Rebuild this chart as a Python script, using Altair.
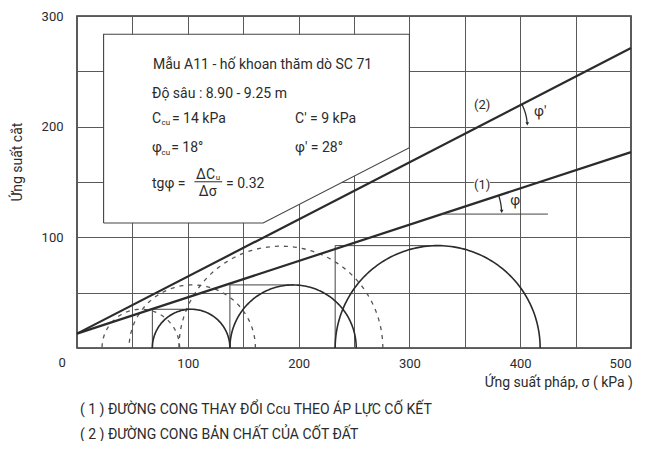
import altair as alt
import numpy as np
import pandas as pd

FONT = "Roboto"
INK = "#2b2b2b"

# ---- data (sigma, tau in kPa) ----
grid_x = list(range(0, 501, 50))
grid_y = list(range(0, 301, 50))

line_names = ["(1)", "(2)"]
line_sigma0 = [0, 0]
line_tau0 = [13, 13]
line_sigma1 = [500, 500]
line_tau1 = [177, 271]

total_center = [103, 195, 325.5]
total_radius = [35, 57, 92.5]
eff_center = [57.6, 104, 184]
eff_radius = [35, 57, 92]

box_sigma = [24, 24, 300, 300, 168, 24]
box_tau = [113, 283.5, 283.5, 181, 113, 113]

# ---- build tables ----
def semicircles(centers, radii, tag):
    rows = []
    th = np.linspace(0, np.pi, 121)
    for i, (c, r) in enumerate(zip(centers, radii)):
        for k, t in enumerate(th):
            rows.append({"id": f"{tag}{i}", "k": k, "x": c + r * np.cos(t), "y": r * np.sin(t)})
    return pd.DataFrame(rows)

solid_df = semicircles(total_center, total_radius, "s")
dash_df = semicircles(eff_center, eff_radius, "d")

lines_df = pd.DataFrame(
    [{"id": n, "x": a, "y": b} for n, a, b in zip(line_names, line_sigma0, line_tau0)]
    + [{"id": n, "x": a, "y": b} for n, a, b in zip(line_names, line_sigma1, line_tau1)]
)

# construction L-lines at each total circle: vertical at left foot up to radius, then to the top
lrows = []
for i, (c, r) in enumerate(zip(total_center, total_radius)):
    lrows += [{"id": i, "k": 0, "x": c - r, "y": 0}, {"id": i, "k": 1, "x": c - r, "y": r},
              {"id": i, "k": 2, "x": c, "y": r}]
l_df = pd.DataFrame(lrows)

box_df = pd.DataFrame({"x": box_sigma, "y": box_tau, "k": range(len(box_sigma))})
box_area = pd.DataFrame({"x": [24, 168, 300], "y": [113, 113, 181], "y2": [283.5, 283.5, 283.5]})

# angle markers
slope1 = (line_tau1[0] - line_tau0[0]) / 500
slope2 = (line_tau1[1] - line_tau0[1]) / 500
phi_tau = [121, 200]
phi_rad = [54, 44]
phi_slope = [slope1, slope2]
arc_rows, horiz_rows, head_rows = [], [], []
for i, (tv, rr, sl) in enumerate(zip(phi_tau, phi_rad, phi_slope)):
    cx = (tv - line_tau0[0]) / sl
    ang = np.arctan(sl)
    for k, t in enumerate(np.linspace(0.06, ang, 30)):
        arc_rows.append({"id": i, "k": k, "x": cx + rr * np.cos(t), "y": tv + rr * np.sin(t)})
    head_rows.append({"x": cx + rr, "y": tv + 2.5})
    if i == 0:
        horiz_rows += [{"id": i, "x": cx, "y": tv}, {"id": i, "x": 425, "y": tv}]
arc_df = pd.DataFrame(arc_rows)
hz_df = pd.DataFrame(horiz_rows)
head_df = pd.DataFrame(head_rows)

txt_left = pd.DataFrame([
    ("Mẫu A11 - hố khoan thăm dò SC 71", 68.6, 255.6, 14),
    ("Độ sâu : 8.90 - 9.25 m", 67.7, 229.5, 14),
    ("C", 67.7, 206.6, 14), ("cu", 76.3, 203.2, 8), ("= 14 kPa", 85.7, 206.6, 14),
    ("φ", 67.7, 180.4, 14), ("cu", 76.3, 176.6, 8), ("= 18°", 85.0, 180.4, 14),
    ("C' = 9 kPa", 196.8, 206.6, 14), ("φ' = 28°", 196.8, 180.4, 14),
    ("tgφ =", 67.7, 148.0, 14), ("ΔC", 107.5, 156.5, 14), ("u", 125.3, 153.6, 8),
    ("= 0.32", 134.5, 148.0, 14),
    ("φ'", 412.5, 213.0, 14), ("φ", 391.0, 133.0, 14),
    ("( 1 ) ĐƯỜNG CONG THAY ĐỔI Ccu THEO ÁP LỰC CỐ KẾT", 2.7, -56.0, 14),
    ("( 2 ) ĐƯỜNG CONG BẢN CHẤT CỦA CỐT ĐẤT", 2.7, -78.8, 14),
], columns=["t", "x", "y", "s"])
txt_center = pd.DataFrame([
    ("Δσ", 118.0, 141.0, 14), ("(2)", 365.6, 219.5, 13), ("(1)", 365.6, 147.5, 13),
    ("0", -13.5, -13.5, 13),
], columns=["t", "x", "y", "s"])
txt_right = pd.DataFrame([("Ứng suất pháp, σ ( kPa )", 501.8, -31.6, 14)], columns=["t", "x", "y", "s"])
txt_rot = pd.DataFrame([("Ứng suất cắt", -53.2, 168.0, 14)], columns=["t", "x", "y", "s"])
frac_df = pd.DataFrame({"x": [106.0], "x2": [131.0], "y": [150.2]})
label_bg = pd.DataFrame({"x": [358.5], "x2": [372.5], "y": [143.0], "y2": [152.5]})

# ---- scales / axes ----
xs = alt.Scale(domain=[0, 500], nice=False, zero=False)
ys = alt.Scale(domain=[0, 300], nice=False, zero=False)
xax = alt.Axis(values=grid_x, title=None, ticks=False, domain=False, grid=True,
               gridColor="#5a5a5a", gridWidth=1, labelFont=FONT, labelFontSize=13,
               labelColor=INK, labelPadding=9, labelFlush=True, labelFlushOffset=0,
               labelExpr="datum.value % 100 == 0 && datum.value > 0 ? datum.label : ''")
yax = alt.Axis(values=grid_y, title=None, ticks=False, domain=False, grid=True,
               gridColor="#5a5a5a", gridWidth=1, labelFont=FONT, labelFontSize=13,
               labelColor=INK, labelPadding=14, labelFlush=False,
               labelExpr="datum.value % 100 == 0 && datum.value > 0 ? datum.label : ''")
X = lambda f="x": alt.X(f"{f}:Q", scale=xs, axis=xax)
Y = lambda f="y": alt.Y(f"{f}:Q", scale=ys, axis=yax)

box_fill = alt.Chart(box_area).mark_area(color="white", opacity=1).encode(
    x=X(), y=Y(), y2="y2:Q")
box_line = alt.Chart(box_df).mark_line(color="#444", strokeWidth=1.1).encode(
    x=X(), y=Y(), order="k:Q")
lbl_bg = alt.Chart(label_bg).mark_rect(color="white", opacity=1).encode(
    x=X(), x2="x2:Q", y=Y(), y2="y2:Q")

l_lines = alt.Chart(l_df).mark_line(color="#444", strokeWidth=1).encode(
    x=X(), y=Y(), detail="id:N", order="k:Q")
dashed = alt.Chart(dash_df).mark_line(color="#555", strokeWidth=1.3, strokeDash=[4, 5]).encode(
    x=X(), y=Y(), detail="id:N", order="k:Q")
solid = alt.Chart(solid_df).mark_line(color=INK, strokeWidth=1.6).encode(
    x=X(), y=Y(), detail="id:N", order="k:Q")
envel = alt.Chart(lines_df).mark_line(color=INK, strokeWidth=2.2).encode(
    x=X(), y=Y(), detail="id:N")
hz = alt.Chart(hz_df).mark_line(color="#444", strokeWidth=1).encode(x=X(), y=Y(), detail="id:N")
arcs = alt.Chart(arc_df).mark_line(color=INK, strokeWidth=1.3).encode(
    x=X(), y=Y(), detail="id:N", order="k:Q")
heads = alt.Chart(head_df).mark_point(shape="triangle-down", filled=True, color=INK, size=14, opacity=1).encode(
    x=X(), y=Y())
frac = alt.Chart(frac_df).mark_rule(color=INK, strokeWidth=1).encode(x=X(), x2="x2:Q", y=Y())

def texts(df, align, angle=0):
    return alt.Chart(df).mark_text(align=align, baseline="middle", font=FONT, color=INK, angle=angle).encode(
        x=X(), y=Y(), text="t:N", size=alt.Size("s:Q", scale=None))

chart = alt.layer(
    box_fill, box_line, lbl_bg, l_lines, dashed, solid, envel, hz, arcs, heads, frac,
    texts(txt_left, "left"), texts(txt_center, "center"), texts(txt_right, "right"),
    texts(txt_rot, "center", 270),
).properties(
    width=554, height=332,
    autosize=alt.AutoSizeParams(type="none"),
    padding={"left": 69, "top": 8, "right": 6, "bottom": 93},
    background="white",
).configure_view(stroke="#333", strokeWidth=1.6)

chart.save("out.html", embed_options={"renderer": "svg", "actions": False})
